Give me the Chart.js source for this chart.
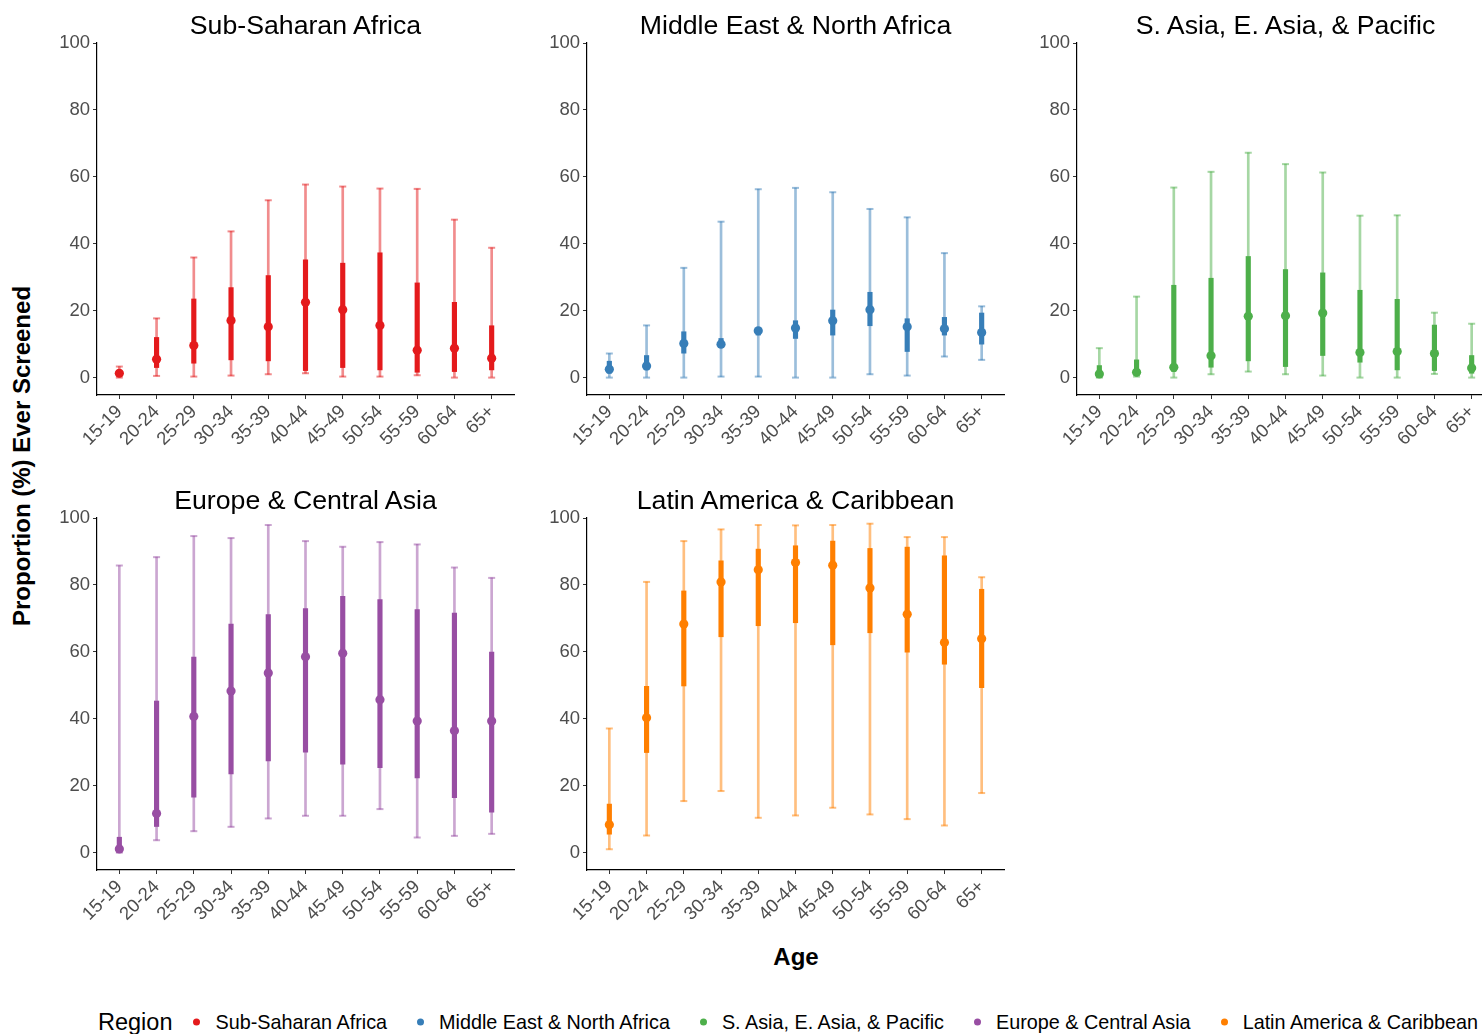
<!DOCTYPE html>
<html>
<head>
<meta charset="utf-8">
<script src="https://cdn.jsdelivr.net/npm/chart.js@4.4.1/dist/chart.umd.min.js"></script>
<style>
  html, body { margin: 0; padding: 0; }
  body {
    width: 1482px; height: 1034px; overflow: hidden; position: relative;
    background: #ffffff; font-family: "Liberation Sans", Arial, Helvetica, sans-serif;
  }
  .panel { position: absolute; }
  .panel canvas { display: block; }
  .ptitle {
    position: absolute; transform: translate(-50%, -50%);
    font-size: 26.7px; color: #000; white-space: nowrap;
  }
  .ytitle {
    position: absolute; left: 22px; top: 456px;
    transform: translate(-50%, -50%) rotate(-90deg);
    font-size: 24px; font-weight: bold; color: #000; white-space: nowrap;
  }
  .xtitle {
    position: absolute; left: 796px; top: 957px; transform: translate(-50%, -50%);
    font-size: 24px; font-weight: bold; color: #000;
  }
  .legend {
    position: absolute; left: 98px; top: 1022px; transform: translateY(-50%);
    display: flex; align-items: center; white-space: nowrap;
  }
  .legend .lt { font-size: 23.5px; color: #000; margin-right: 21px; }
  .legend .item { display: flex; align-items: center; margin-right: 30px; font-size: 19.8px; color: #000; }
  .legend .dot { width: 7px; height: 7px; border-radius: 50%; margin-right: 15px; }
</style>
</head>
<body>
<div id="root"></div>
<div class="ytitle">Proportion (%) Ever Screened</div>
<div class="xtitle">Age</div>
<div class="legend" id="legend"></div>

<script>
// Age groups along each x axis
const ageGroups = ["15-19", "20-24", "25-29", "30-34", "35-39", "40-44", "45-49", "50-54", "55-59", "60-64", "65+"];
const yTickValues = [0, 20, 40, 60, 80, 100];

const regionNames = ["Sub-Saharan Africa", "Middle East & North Africa", "S. Asia, E. Asia, & Pacific", "Europe & Central Asia", "Latin America & Caribbean"];
const regionColors = ["#E41A1C", "#377EB8", "#4DAF4A", "#984EA3", "#FF7F00"];

// Sub-Saharan Africa
const ssaMedian    = [1.3, 5.5, 9.6, 17.1, 15.2, 22.5, 20.3, 15.6, 8.2, 8.8, 5.8];
const ssaInnerLow  = [0.8, 3.0, 4.3, 5.3, 5.0, 2.1, 3.0, 2.3, 1.6, 1.8, 2.3];
const ssaInnerHigh = [2.0, 12.0, 23.5, 26.9, 30.5, 35.2, 34.2, 37.3, 28.3, 22.5, 15.5];
const ssaOuterLow  = [0.0, 0.5, 0.3, 0.6, 1.0, 1.3, 0.3, 0.3, 0.7, 0.0, 0.0];
const ssaOuterHigh = [3.3, 17.7, 35.9, 43.7, 53.0, 57.7, 57.1, 56.5, 56.4, 47.2, 38.8];

// Middle East & North Africa
const menaMedian    = [2.5, 3.5, 10.2, 10.0, 14.0, 14.8, 17.0, 20.3, 15.2, 14.6, 13.5];
const menaInnerLow  = [1.3, 2.3, 7.3, 9.3, 12.7, 11.7, 12.7, 15.5, 7.8, 12.7, 10.0];
const menaInnerHigh = [4.9, 6.6, 13.7, 11.7, 14.7, 17.0, 20.2, 25.5, 17.6, 18.0, 19.3];
const menaOuterLow  = [0.0, 0.0, 0.0, 0.3, 0.3, 0.0, 0.0, 1.0, 0.6, 6.3, 5.3];
const menaOuterHigh = [7.2, 15.6, 32.8, 46.6, 56.3, 56.7, 55.4, 50.4, 47.9, 37.2, 21.3];

// S. Asia, E. Asia, & Pacific
const sasMedian    = [1.1, 1.6, 3.1, 6.5, 18.3, 18.5, 19.3, 7.5, 7.8, 7.2, 2.9];
const sasInnerLow  = [0.3, 0.8, 1.8, 3.1, 5.0, 3.3, 6.6, 4.6, 2.3, 2.1, 1.3];
const sasInnerHigh = [3.6, 5.3, 27.6, 29.7, 36.2, 32.3, 31.3, 26.1, 23.4, 15.7, 6.6];
const sasOuterLow  = [0.0, 0.3, 0.0, 1.0, 1.8, 1.0, 0.6, 0.0, 0.0, 1.1, 0.0];
const sasOuterHigh = [8.8, 24.2, 56.8, 61.5, 67.2, 63.8, 61.3, 48.4, 48.5, 19.4, 16.1];

// Europe & Central Asia
const ecaMedian    = [1.1, 11.7, 40.7, 48.3, 53.7, 58.5, 59.6, 45.7, 39.3, 36.4, 39.3];
const ecaInnerLow  = [0.3, 7.8, 16.6, 23.5, 27.4, 30.0, 26.4, 25.4, 22.3, 16.4, 12.1];
const ecaInnerHigh = [4.6, 45.3, 58.4, 68.3, 71.1, 72.9, 76.6, 75.6, 72.6, 71.6, 59.9];
const ecaOuterLow  = [0.0, 3.7, 6.4, 7.7, 10.2, 11.0, 11.0, 13.0, 4.5, 5.0, 5.6];
const ecaOuterHigh = [85.8, 88.3, 94.6, 94.0, 97.9, 93.1, 91.4, 92.8, 92.1, 85.2, 82.1];

// Latin America & Caribbean
const lacMedian    = [8.3, 40.3, 68.3, 80.9, 84.5, 86.7, 85.9, 79.1, 71.2, 62.8, 63.9];
const lacInnerLow  = [5.5, 29.9, 49.8, 64.5, 67.8, 68.7, 62.1, 65.7, 59.9, 56.3, 49.3];
const lacInnerHigh = [14.5, 49.7, 78.2, 87.2, 90.7, 91.7, 93.1, 90.9, 91.3, 88.7, 78.7];
const lacOuterLow  = [1.0, 5.1, 15.4, 18.4, 10.4, 11.1, 13.4, 11.4, 10.0, 8.1, 17.8];
const lacOuterHigh = [37.1, 80.9, 93.1, 96.6, 97.9, 97.8, 97.9, 98.3, 94.3, 94.3, 82.3];

const regionSeries = [
  { median: ssaMedian,  innerLow: ssaInnerLow,  innerHigh: ssaInnerHigh,  outerLow: ssaOuterLow,  outerHigh: ssaOuterHigh },
  { median: menaMedian, innerLow: menaInnerLow, innerHigh: menaInnerHigh, outerLow: menaOuterLow, outerHigh: menaOuterHigh },
  { median: sasMedian,  innerLow: sasInnerLow,  innerHigh: sasInnerHigh,  outerLow: sasOuterLow,  outerHigh: sasOuterHigh },
  { median: ecaMedian,  innerLow: ecaInnerLow,  innerHigh: ecaInnerHigh,  outerLow: ecaOuterLow,  outerHigh: ecaOuterHigh },
  { median: lacMedian,  innerLow: lacInnerLow,  innerHigh: lacInnerHigh,  outerLow: lacOuterLow,  outerHigh: lacOuterHigh }
];

// Facet grid geometry (3 columns, 2 rows)
const axisLeftX = [97, 587, 1077];
const plotTopY = [43, 518];
const plotW = 417, plotH = 352;
const yAxisW = 60, xAxisH = 70, padTop = 20, padRight = 15;

function withAlpha(hex, a) {
  const n = parseInt(hex.slice(1), 16);
  return `rgba(${(n >> 16) & 255}, ${(n >> 8) & 255}, ${n & 255}, ${a})`;
}

const tickFont = { family: '"Liberation Sans", Arial, sans-serif', size: 18.5 };
const root = document.getElementById('root');

regionNames.forEach((name, r) => {
  const col = r % 3, row = Math.floor(r / 3);
  const s = regionSeries[r];
  const color = regionColors[r];
  const light = withAlpha(color, 0.5);

  const wrap = document.createElement('div');
  wrap.className = 'panel';
  wrap.style.left = (axisLeftX[col] - yAxisW) + 'px';
  wrap.style.top = (plotTopY[row] - padTop) + 'px';
  const canvas = document.createElement('canvas');
  canvas.width = yAxisW + plotW + padRight;
  canvas.height = padTop + plotH + xAxisH;
  wrap.appendChild(canvas);
  root.appendChild(wrap);

  const title = document.createElement('div');
  title.className = 'ptitle';
  title.textContent = name;
  title.style.left = (axisLeftX[col] + plotW / 2) + 'px';
  title.style.top = (plotTopY[row] - 18) + 'px';
  root.appendChild(title);

  const outerRange = ageGroups.map((_, i) => ({ x: i, y: [s.outerLow[i], s.outerHigh[i]] }));
  const innerRange = ageGroups.map((_, i) => ({ x: i, y: [s.innerLow[i], s.innerHigh[i]] }));
  const caps = [];
  ageGroups.forEach((_, i) => {
    caps.push({ x: i, y: s.outerLow[i] });
    caps.push({ x: i, y: s.outerHigh[i] });
  });
  const centers = ageGroups.map((_, i) => ({ x: i, y: s.median[i] }));

  new Chart(canvas, {
    type: 'bar',
    data: {
      datasets: [
        { type: 'bar', data: outerRange, backgroundColor: light, borderWidth: 0,
          barThickness: 2, grouped: false, order: 3 },
        { type: 'scatter', data: caps, pointStyle: 'line', pointRadius: 3.5,
          borderColor: light, borderWidth: 2, order: 2 },
        { type: 'bar', data: innerRange, backgroundColor: color, borderWidth: 0,
          barThickness: 4.5, grouped: false, order: 1 },
        { type: 'scatter', data: centers, pointStyle: 'circle', pointRadius: 4.6,
          backgroundColor: color, borderWidth: 0, order: 0 }
      ]
    },
    options: {
      responsive: false,
      animation: false,
      events: [],
      layout: { padding: { top: padTop, right: padRight, left: 0, bottom: 0 } },
      plugins: { legend: { display: false }, tooltip: { enabled: false }, title: { display: false } },
      scales: {
        x: {
          type: 'linear', min: -0.6, max: 10.6, offset: false,
          afterBuildTicks: ax => { ax.ticks = ageGroups.map((_, i) => ({ value: i })); },
          afterFit: ax => { ax.height = xAxisH; },
          ticks: {
            autoSkip: false, minRotation: 45, maxRotation: 45, padding: 2,
            color: '#4d4d4d', font: tickFont,
            callback: v => ageGroups[v]
          },
          grid: { display: true, offset: false, drawOnChartArea: false, drawTicks: true, tickLength: 4, color: '#333333' },
          border: { display: true, color: '#000000', width: 1.2 }
        },
        y: {
          type: 'linear', min: -5.2, max: 100,
          afterBuildTicks: ax => { ax.ticks = yTickValues.map(v => ({ value: v })); },
          afterFit: ax => { ax.width = yAxisW; },
          ticks: { padding: 3, color: '#4d4d4d', font: tickFont },
          grid: { display: true, offset: false, drawOnChartArea: false, drawTicks: true, tickLength: 4, color: '#333333' },
          border: { display: true, color: '#000000', width: 1.2 }
        }
      }
    }
  });
});

// Shared legend below the facets
const legend = document.getElementById('legend');
const lt = document.createElement('span');
lt.className = 'lt';
lt.textContent = 'Region';
legend.appendChild(lt);
regionNames.forEach((name, r) => {
  const item = document.createElement('span');
  item.className = 'item';
  const dot = document.createElement('span');
  dot.className = 'dot';
  dot.style.background = regionColors[r];
  const label = document.createElement('span');
  label.textContent = name;
  item.appendChild(dot);
  item.appendChild(label);
  legend.appendChild(item);
});
</script>
</body>
</html>
